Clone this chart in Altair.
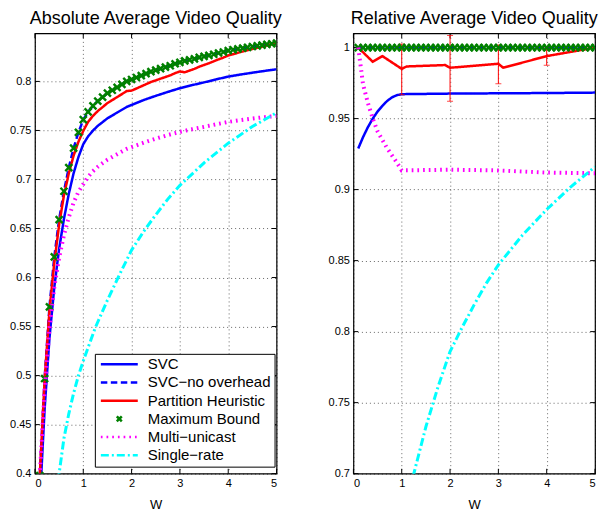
import altair as alt
import pandas as pd

FONT = "Liberation Sans"

# ---------------- series definitions ----------------
SERIES = ["SVC", "SVC−no overhead", "Partition Heuristic", "Maximum Bound",
          "Multi−unicast", "Single−rate"]
COLORS = ["#0000ff", "#0000ff", "#ff0000", "#008000", "#ff00ff", "#00ffff"]

# ---------------- absolute panel data ----------------
W_STEP = [0.1, 0.2, 0.3, 0.4, 0.5, 0.6, 0.7, 0.8, 0.9, 1.0,
          1.1, 1.2, 1.3, 1.4, 1.5, 1.6, 1.7, 1.8, 1.9, 2.0,
          2.1, 2.2, 2.3, 2.4, 2.5, 2.6, 2.7, 2.8, 2.9, 3.0,
          3.1, 3.2, 3.3, 3.4, 3.5, 3.6, 3.7, 3.8, 3.9, 4.0,
          4.1, 4.2, 4.3, 4.4, 4.5, 4.6, 4.7, 4.8, 4.9, 5.0]

max_bound_abs = [0.398, 0.497, 0.570, 0.621, 0.659, 0.688, 0.712, 0.732, 0.748, 0.761,
                 0.769, 0.775, 0.780, 0.784, 0.788, 0.791, 0.794, 0.797, 0.800, 0.802,
                 0.804, 0.806, 0.808, 0.810, 0.8115, 0.813, 0.8145, 0.816, 0.818, 0.8195,
                 0.821, 0.822, 0.823, 0.8245, 0.8255, 0.8265, 0.8277, 0.829, 0.830, 0.8315,
                 0.8323, 0.8332, 0.834, 0.8348, 0.8356, 0.8363, 0.837, 0.8377, 0.8384, 0.839]

svc_noovh_abs = [0.398, 0.497, 0.570, 0.621, 0.659, 0.688, 0.712, 0.732, 0.748, 0.761,
                 0.769, 0.775, 0.780, 0.784, 0.788, 0.791, 0.794, 0.797, 0.800, 0.802,
                 0.804, 0.806, 0.808, 0.810, 0.8115, 0.813, 0.8145, 0.816, 0.818, 0.8195,
                 0.821, 0.822, 0.823, 0.8245, 0.8255, 0.8265, 0.8277, 0.829, 0.830, 0.8315,
                 0.8323, 0.8332, 0.834, 0.8348, 0.8356, 0.8363, 0.837, 0.8377, 0.8384, 0.839]

partition_abs = [0.398, 0.4953, 0.5662, 0.6148, 0.6537, 0.6839, 0.7061, 0.7243, 0.7385, 0.7496,
                 0.7588, 0.7648, 0.7698, 0.7738, 0.7779, 0.7810, 0.7840, 0.7871, 0.7902, 0.7906,
                 0.7928, 0.7950, 0.7972, 0.7994, 0.8011, 0.8028, 0.8045, 0.8062, 0.8084, 0.8102,
                 0.8093, 0.8111, 0.8128, 0.8150, 0.8168, 0.8185, 0.8205, 0.8225, 0.8243, 0.8265,
                 0.8278, 0.8292, 0.8305, 0.8318, 0.8331, 0.8343, 0.8355, 0.8367, 0.8379, 0.839]

W_SMOOTH = [0.1, 0.2, 0.3, 0.4, 0.5, 0.6, 0.7, 0.8, 0.9, 1.0,
            1.1, 1.2, 1.3, 1.4, 1.5, 1.6, 1.7, 1.8, 1.9, 2.0,
            2.25, 2.5, 2.75, 3.0, 3.25, 3.5, 3.75, 4.0, 4.25, 4.5, 4.75, 5.0]
svc_abs = [0.370, 0.4657, 0.5381, 0.590, 0.6293, 0.6598, 0.6853, 0.7064, 0.7229, 0.7360,
           0.7440, 0.7498, 0.7547, 0.7585, 0.7624, 0.7653, 0.7682, 0.7711, 0.7740, 0.7760,
           0.7810, 0.7853, 0.7893, 0.7931, 0.7962, 0.7990, 0.8021, 0.8049, 0.8070, 0.8089,
           0.8107, 0.8124]
multi_abs = [0.398, 0.4841, 0.5478, 0.590, 0.6201, 0.6433, 0.6614, 0.6764, 0.6874, 0.6952,
             0.7027, 0.7084, 0.7129, 0.7166, 0.7202, 0.7230, 0.7257, 0.7285, 0.7312, 0.7330,
             0.7375, 0.7416, 0.7453, 0.7486, 0.7512, 0.7537, 0.7563, 0.7587, 0.7605, 0.7621,
             0.7636, 0.7648]

W_SINGLE_ABS = [0.4, 0.5, 0.6, 0.7, 0.8, 0.9, 1.0, 1.25, 1.5, 1.75, 2.0, 2.25, 2.5, 2.75,
                3.0, 3.5, 4.0, 4.5, 5.0]
single_abs = [0.36, 0.40, 0.436, 0.461, 0.482, 0.50, 0.515, 0.549, 0.577, 0.603, 0.628,
              0.647, 0.664, 0.680, 0.694, 0.717, 0.737, 0.754, 0.768]

# ---------------- relative panel data ----------------
max_bound_rel = [1.0] * 50
svc_noovh_rel = [1.0] * 50

W_REL = [0.1, 0.2, 0.3, 0.4, 0.5, 0.6, 0.7, 0.8, 0.9, 1.0, 2.0, 3.0, 4.0, 5.0]
svc_rel = [0.929, 0.937, 0.944, 0.950, 0.955, 0.959, 0.9625, 0.965, 0.9665, 0.9672,
           0.9676, 0.9678, 0.968, 0.9683]
multi_rel = [1.0, 0.974, 0.961, 0.950, 0.941, 0.935, 0.929, 0.924, 0.919, 0.9135,
             0.914, 0.9135, 0.912, 0.9115]

W_PART_REL = [0.1, 0.4, 0.6, 1.0, 1.1, 1.9, 2.0, 3.0, 3.1, 4.0, 5.0]
partition_rel = [1.0, 0.990, 0.994, 0.985, 0.9867, 0.9877, 0.9858, 0.9886, 0.9858, 0.994, 1.0]

W_SINGLE_REL = [1.0, 1.25, 1.5, 1.75, 2.0, 2.25, 2.5, 2.75, 3.0, 3.5, 4.0, 4.5, 5.0]
single_rel = [0.665, 0.700, 0.733, 0.761, 0.786, 0.803, 0.819, 0.834, 0.847, 0.868,
              0.886, 0.902, 0.916]

ERR_W = [1.0, 2.0, 3.0, 4.0]
err_lo = [0.9668, 0.9622, 0.9745, 0.9875]
err_hi = [1.0026, 1.0085, 1.0019, 1.0005]

# axis ticks
X_TICKS = [0, 1, 2, 3, 4, 5]
Y_TICKS_ABS = [0.4, 0.45, 0.5, 0.55, 0.6, 0.65, 0.7, 0.75, 0.8]
Y_TICKS_REL = [0.7, 0.75, 0.8, 0.85, 0.9, 0.95, 1.0]

# ---------------- styling ----------------
LINE_PATH = "M-3.7,0L3.7,0"
X_PATH = "M-0.5,-0.5L0.5,0.5M-0.5,0.5L0.5,-0.5"
SHAPES = [LINE_PATH, LINE_PATH, LINE_PATH, X_PATH, LINE_PATH, LINE_PATH]
DASHES = [[1, 0], [6.5, 3.5], [1, 0], [1, 0], [1.7, 4], [8, 3, 2, 3]]


def long_df(pairs):
    rows = []
    for name, ws, vs in pairs:
        for w, v in zip(ws, vs):
            rows.append({"w": w, "v": v, "series": name})
    return pd.DataFrame(rows)


def make_panel(data, ydom, yticks, title, legend, err=None):
    xs = alt.Scale(domain=[0, 5], nice=False, zero=False)
    ys = alt.Scale(domain=ydom, nice=False, zero=False)
    xaxis = alt.Axis(values=X_TICKS, format="d", title="W", grid=True, ticks=False,
                     domain=False, labelPadding=4, titlePadding=10)
    yaxis = alt.Axis(values=yticks, format=".2~f", title=None, grid=True, ticks=False,
                     domain=False, labelPadding=4)

    def X(f="w"):
        return alt.X(f"{f}:Q", scale=xs, axis=xaxis)

    def Y(f="v"):
        return alt.Y(f"{f}:Q", scale=ys, axis=yaxis)

    color = alt.Color("series:N", scale=alt.Scale(domain=SERIES, range=COLORS), legend=legend)
    dash = alt.StrokeDash("series:N", scale=alt.Scale(domain=SERIES, range=DASHES), legend=legend)
    shape = alt.Shape("series:N", scale=alt.Scale(domain=SERIES, range=SHAPES), legend=legend)

    # inner tick marks (MATLAB style, pointing inward)
    dx = 0.1
    dy = (ydom[1] - ydom[0]) * 0.011
    ytick_df = pd.DataFrame(
        [{"v": t, "a": 0, "b": dx} for t in yticks] +
        [{"v": t, "a": 5 - dx, "b": 5} for t in yticks])
    xtick_df = pd.DataFrame(
        [{"w": t, "a": ydom[0], "b": ydom[0] + dy} for t in X_TICKS] +
        [{"w": t, "a": ydom[1] - dy, "b": ydom[1]} for t in X_TICKS])
    tick_y = alt.Chart(ytick_df).mark_rule(color="black", strokeWidth=1).encode(
        x=X("a"), x2="b:Q", y=Y("v"))
    tick_x = alt.Chart(xtick_df).mark_rule(color="black", strokeWidth=1).encode(
        x=X("w"), y=Y("a"), y2="b:Q")

    first = data[data.series.isin(SERIES[:3])]
    lines1 = alt.Chart(first).mark_line(strokeWidth=2.5, clip=True).encode(
        x=X(), y=Y(), color=color, strokeDash=dash)
    pts = alt.Chart(data[data.series == "Maximum Bound"]).mark_point(
        filled=False, size=196, strokeWidth=2.4, opacity=1, clip=True).encode(
        x=X(), y=Y(), color=color, shape=shape)
    magenta = alt.Chart(data[data.series == "Multi−unicast"]).mark_line(
        strokeWidth=4, clip=True).encode(x=X(), y=Y(), color=color, strokeDash=dash)
    cyan = alt.Chart(data[data.series == "Single−rate"]).mark_line(
        strokeWidth=3, clip=True).encode(x=X(), y=Y(), color=color, strokeDash=dash)

    layers = [tick_y, tick_x, lines1]
    if err is not None:
        rule = alt.Chart(err).mark_rule(color="#ff0000", strokeWidth=1, clip=True).encode(
            x=X(), y=Y("lo"), y2="hi:Q")
        cap_lo = alt.Chart(err).mark_tick(color="#ff0000", orient="horizontal", size=6,
                                          thickness=1, clip=True).encode(x=X(), y=Y("lo"))
        cap_hi = alt.Chart(err).mark_tick(color="#ff0000", orient="horizontal", size=6,
                                          thickness=1, clip=True).encode(x=X(), y=Y("hi"))
        layers += [rule, cap_lo, cap_hi]
    layers += [pts, magenta, cyan]

    return alt.layer(*layers).properties(
        width=242, height=441,
        title=alt.TitleParams(title, fontSize=18, font=FONT, fontWeight="normal",
                              anchor="middle", baseline="alphabetic", offset=-9,
                              color="black"))


abs_df = long_df([
    ("SVC", W_SMOOTH, svc_abs),
    ("SVC−no overhead", W_STEP, svc_noovh_abs),
    ("Partition Heuristic", W_STEP, partition_abs),
    ("Maximum Bound", W_STEP, max_bound_abs),
    ("Multi−unicast", W_SMOOTH, multi_abs),
    ("Single−rate", W_SINGLE_ABS, single_abs),
])
rel_df = long_df([
    ("SVC", W_REL, svc_rel),
    ("SVC−no overhead", W_STEP, svc_noovh_rel),
    ("Partition Heuristic", W_PART_REL, partition_rel),
    ("Maximum Bound", W_STEP, max_bound_rel),
    ("Multi−unicast", W_REL, multi_rel),
    ("Single−rate", W_SINGLE_REL, single_rel),
])
err_df = pd.DataFrame({"w": ERR_W, "lo": err_lo, "hi": err_hi})

legend = alt.Legend(title=None, orient="none", legendX=60, legendY=321,
                    direction="vertical", fillColor="white", strokeColor="black",
                    padding=3, labelFont=FONT, labelFontSize=15, labelColor="black",
                    symbolSize=100, symbolStrokeWidth=2.5, symbolOffset=14,
                    labelOffset=21, rowPadding=2.2, labelLimit=400, cornerRadius=0)

left = make_panel(abs_df, [0.4, 0.849], Y_TICKS_ABS, "Absolute Average Video Quality", legend)
right = make_panel(rel_df, [0.7, 1.01], Y_TICKS_REL, "Relative Average Video Quality", None,
                   err=err_df)

chart = alt.HConcatChart(hconcat=[left, right], spacing=77, bounds="flush").resolve_scale(
    color="independent", strokeDash="independent", shape="independent"
).properties(padding=0).configure(font=FONT).configure_view(
    stroke="black", strokeWidth=1.2
).configure_axis(
    labelFont=FONT, labelFontSize=11, labelColor="black",
    titleFont=FONT, titleFontSize=13, titleFontWeight="normal", titleColor="black",
    gridColor="#000000", gridOpacity=0.6, gridDash=[1, 3], gridWidth=1
)

chart.save("out.html", embed_options={"renderer": "svg", "actions": False})
